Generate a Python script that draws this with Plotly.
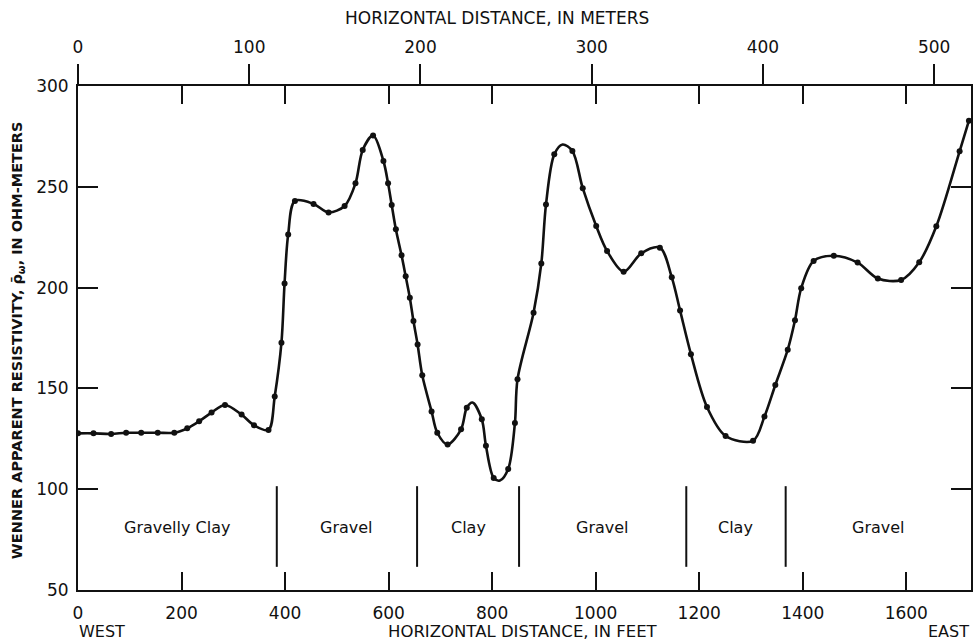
import plotly.graph_objects as go

# Measured points (distance in feet, apparent resistivity in ohm-meters)
dist_ft = [0, 30, 64, 93, 122, 154, 186, 211, 234, 258, 284, 316, 340, 368,
           380, 393, 399, 406, 419, 455, 484, 515, 536, 550, 570, 590, 599,
           606, 614, 625, 633, 641, 648, 656, 665, 683, 694, 714, 740, 751,
           780, 788, 803, 831, 844, 849, 880, 895, 904, 920, 955, 975, 1001,
           1022, 1054, 1088, 1124, 1147, 1163, 1184, 1215, 1251, 1304, 1326,
           1347, 1371, 1385, 1397, 1421, 1460, 1506, 1545, 1590, 1625, 1658,
           1703, 1721]
resistivity = [127.7, 127.7, 127.4, 128, 128, 128, 128, 130.2, 133.7, 138,
               141.8, 137, 131.7, 129.4, 146, 172.7, 202, 226.4, 243, 241.5,
               237.3, 240.5, 251.7, 268.3, 275.5, 262.8, 251.7, 241, 228.9,
               216, 205.6, 195, 183.4, 171.8, 156.5, 138.6, 128, 122.2, 129.7,
               140.4, 134.7, 121.6, 105.6, 110, 132.8, 154.5, 187.5, 212,
               241.2, 266.1, 267.8, 249.3, 230.6, 218.2, 207.9, 217, 219.8,
               205.1, 188.7, 167, 140.8, 126.4, 124, 136, 151.7, 169.2, 183.8,
               199.7, 213.2, 215.8, 212.4, 204.5, 203.8, 212.6, 230.4, 267.6,
               282.8]

# Extra vertices of the hand-drawn curve (turning points without a dot)
curve_only_ft = [762, 815, 936]
curve_only_val = [143, 104.3, 271]

# Lithology
boundaries_ft = [384, 655, 852, 1175, 1367]
units = ["Gravelly Clay", "Gravel", "Clay", "Gravel", "Clay", "Gravel"]

x_max_ft = 1725
x_max_m = 521.5
y_ticks = [50, 100, 150, 200, 250, 300]
ft_ticks = [0, 200, 400, 600, 800, 1000, 1200, 1400, 1600]
m_ticks = [0, 100, 200, 300, 400, 500]

pts = sorted(list(zip(dist_ft, resistivity)) + list(zip(curve_only_ft, curve_only_val)))
curve_x = [p[0] for p in pts]
curve_y = [p[1] for p in pts]

FONT = "DejaVu Sans"
INK = "#111111"
W, H = 974, 643
ML, MR, MT, MB = 78, 1, 86, 53


def px_to_paper_x(px):
    return (px - ML) / (W - ML - MR)


def px_to_paper_y(py):
    return (H - MB - py) / (H - MT - MB)


fig = go.Figure()
fig.add_trace(go.Scatter(x=curve_x, y=curve_y, mode="lines",
                         line=dict(color=INK, width=2.6, shape="spline", smoothing=0.9),
                         showlegend=False, hoverinfo="skip"))
fig.add_trace(go.Scatter(x=dist_ft, y=resistivity, mode="markers",
                         marker=dict(color=INK, size=6),
                         showlegend=False))
fig.add_trace(go.Scatter(x=[None], y=[None], xaxis="x2", showlegend=False,
                         hoverinfo="skip"))

# lithology dividers
for b in boundaries_ft:
    fig.add_shape(type="line", x0=b, x1=b, y0=61.5, y1=101.5, xref="x", yref="y",
                  line=dict(color=INK, width=2))

edges = [0] + boundaries_ft + [x_max_ft]
for i, name in enumerate(units):
    cx = (edges[i] + edges[i + 1]) / 2
    fig.add_annotation(x=cx, y=81, xref="x", yref="y", text=name, showarrow=False,
                       font=dict(family=FONT, size=16, color=INK))

tick_font = dict(family=FONT, size=17, color=INK)
fig.update_layout(
    width=W, height=H,
    margin=dict(l=ML, r=MR, t=MT, b=MB),
    paper_bgcolor="white", plot_bgcolor="white",
    xaxis=dict(range=[0, x_max_ft], tickvals=ft_ticks, ticks="inside", ticklen=18,
               tickwidth=1.5, tickcolor=INK, showline=True, linecolor=INK, linewidth=2,
               mirror="ticks", showgrid=False, zeroline=False,
               tickfont=tick_font, ticklabelstandoff=7),
    xaxis2=dict(range=[0, x_max_m], tickvals=m_ticks, overlaying="x", side="top",
                ticks="outside", ticklen=21, tickwidth=1.5, tickcolor=INK,
                showline=False, showgrid=False, zeroline=False,
                tickfont=tick_font, ticklabelstandoff=4),
    yaxis=dict(range=[50, 300], tickvals=y_ticks, ticks="inside", ticklen=20,
               tickwidth=1.5, tickcolor=INK, showline=True, linecolor=INK, linewidth=2,
               mirror="ticks", showgrid=False, zeroline=False,
               tickfont=tick_font, ticklabelstandoff=4),
)

fig.add_annotation(x=px_to_paper_x(498), y=px_to_paper_y(18), xref="paper", yref="paper",
                   text="HORIZONTAL DISTANCE, IN METERS", showarrow=False, yanchor="middle",
                   font=dict(family=FONT, size=17, color=INK))
fig.add_annotation(x=px_to_paper_x(524), y=px_to_paper_y(631), xref="paper", yref="paper",
                   text="HORIZONTAL DISTANCE, IN FEET", showarrow=False, yanchor="middle",
                   font=dict(family=FONT, size=16.5, color=INK))
fig.add_annotation(x=px_to_paper_x(77), y=px_to_paper_y(631), xref="paper", yref="paper",
                   text="WEST", showarrow=False, xanchor="left", yanchor="middle",
                   font=dict(family=FONT, size=16, color=INK))
fig.add_annotation(x=px_to_paper_x(973), y=px_to_paper_y(631), xref="paper", yref="paper",
                   text="EAST", showarrow=False, xanchor="right", yanchor="middle",
                   font=dict(family=FONT, size=16, color=INK))
fig.add_annotation(x=px_to_paper_x(18), y=px_to_paper_y(340), xref="paper", yref="paper",
                   text="WENNER APPARENT RESISTIVITY, \u03c1\u0304<sub>\u03c9</sub>, IN OHM-METERS",
                   showarrow=False, textangle=-90, xanchor="center", yanchor="middle",
                   font=dict(family=FONT, size=14.5, color=INK, weight="bold"))

fig.write_html("out.html", config={"displayModeBar": False},
               post_script="document.body.style.margin='0';")
